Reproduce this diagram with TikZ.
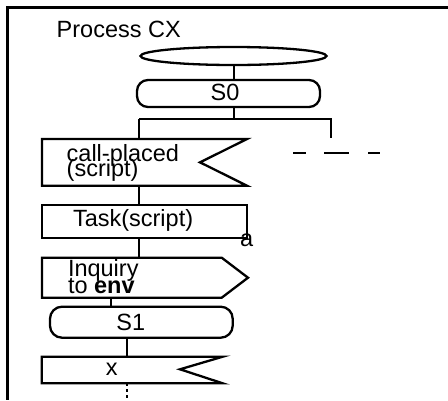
\documentclass[tikz,border=0pt]{standalone}
\usepackage{fontspec}
\setmainfont{Liberation Sans}
\usetikzlibrary{calc,shapes.geometric}
\begin{document}
\begin{tikzpicture}[x=1pt,y=-1pt,
  ln/.style={line width=2.3pt,line join=miter},
  frm/.style={line width=2.8pt},
  box/.style={rectangle,inner sep=0pt,outer sep=0pt},
  txt/.style={inner sep=0pt,outer sep=0pt,font=\fontsize{23.5}{23.5}\selectfont},
  ]
\useasboundingbox (0,0) rectangle (448,400);
% frame
\coordinate (ftr) at (448,7.5);
\coordinate (ftl) at (7.5,7.5);
\coordinate (fbl) at (7.5,400);
\draw[frm] (ftr) -- (ftl) -- (fbl);
\node[txt,anchor=base west] (title) at (56.7,37) {Process CX};
% start ellipse
\node[ellipse,draw,ln,inner sep=0pt,minimum width=186pt,minimum height=18pt] (start) at (233.5,56) {};
% S0
\node[box,draw,ln,rounded corners=11pt,minimum width=183pt,minimum height=27pt] (s0) at (228.5,93.5) {};
\node[txt,anchor=base] (s0t) at (225,100) {S0};
% fork
\coordinate (j0) at (234,119);
\coordinate (jl) at (139,119);
\coordinate (jr) at (331,119);
\coordinate (jre) at (331,138);
\draw[ln] (start.south -| j0) -- (s0.north -| j0);
\draw[ln] (s0.south -| j0) -- (j0);
\draw[ln] (jl) -- (jr) -- (jre);
% dashes
\coordinate (d1) at (293,152.7);
\coordinate (d2) at (380,152.7);
\draw[ln,dash pattern=on 13pt off 18pt on 25pt off 19pt on 12pt off 20pt] (d1) -- (d2);
% call-placed
\node[box,minimum width=205pt,minimum height=46.7pt] (cp) at (144.5,162.35) {};
\draw[ln] (cp.north west) -- (cp.north east) -- ($(cp.east)+(-47,0)$) -- (cp.south east) -- (cp.south west) -- cycle;
\node[txt,anchor=base west] (cpt1) at (66.7,161.7) {call-placed};
\node[txt,anchor=base west] (cpt2) at (66.7,176.7) {(script)};
\draw[ln] (jl) -- (cp.north -| jl);
% Task
\node[box,draw,ln,minimum width=205pt,minimum height=33.3pt] (task) at (144.5,221.65) {};
\node[txt,anchor=base west] (taskt) at (73,226.7) {Task(script)};
\node[txt,anchor=base west] (alab) at (240,246) {a};
\draw[ln] (cp.south -| jl) -- (task.north -| jl);
% Inquiry
\node[box,minimum width=206pt,minimum height=40pt] (inq) at (145,277.7) {};
\draw[ln] (inq.north west) -- ($(inq.north east)+(-26.3,0)$) -- (inq.east) -- ($(inq.south east)+(-26.3,0)$) -- (inq.south west) -- cycle;
\node[txt,anchor=base west] (inqt1) at (68,276.7) {Inquiry};
\node[txt,anchor=base west] (inqt2) at (68,293.5) {to \textbf{env}};
\draw[ln] (task.south -| jl) -- (inq.north -| jl);
% S1
\node[box,draw,ln,rounded corners=12pt,minimum width=182.7pt,minimum height=31pt] (s1) at (141.35,322.2) {};
\node[txt,anchor=base] (s1t) at (130.7,330) {S1};
\coordinate (c1) at (111,300);
\draw[ln] (inq.south -| c1) -- (s1.north -| c1);
% x box
\node[box,minimum width=181pt,minimum height=26.6pt] (xb) at (132.2,370) {};
\draw[ln] (xb.north west) -- (xb.north east) -- ($(xb.east)+(-42.7,-0.7)$) -- (xb.south east) -- (xb.south west) -- cycle;
\node[txt,anchor=base] (xbt) at (111.7,375) {x};
\coordinate (c2) at (126.7,345);
\draw[ln] (s1.south -| c2) -- (xb.north -| c2);
\coordinate (dend) at (126.7,400);
\draw[ln,dash pattern=on 3pt off 3pt] (xb.south -| c2) -- (dend);
\end{tikzpicture}
\end{document}
